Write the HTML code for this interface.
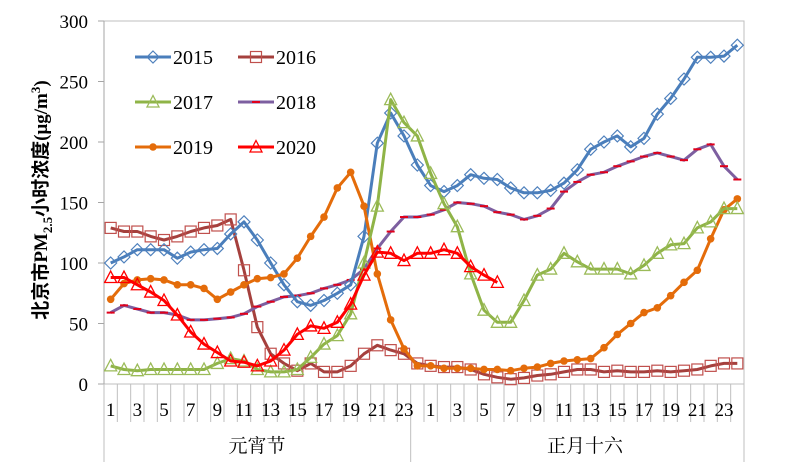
<!DOCTYPE html>
<html><head><meta charset="utf-8"><style>
html,body{margin:0;padding:0;background:#fff}
svg{display:block}
text{font-family:"Liberation Serif","Noto Serif CJK SC",serif}
</style></head><body>
<svg id="c" width="800" height="471" viewBox="0 0 800 471" xmlns="http://www.w3.org/2000/svg"></svg>
<script>
const S=document.getElementById('c');
let h='';
const L=104,R=744,T=21,B=384,N=48,cw=(R-L)/N;
const X=i=>L+(i+0.5)*cw, Y=v=>B-v*(B-T)/300;
h+=`<rect x="${L}" y="${T}" width="${R-L}" height="${B-T}" fill="none" stroke="#bfbfbf" stroke-width="1"/>`;
h+=`<line x1="${L}" y1="${T}" x2="${L}" y2="${B}" stroke="#a6a6a6"/>`;
for(let v=0;v<=300;v+=50){h+=`<line x1="${L-6}" y1="${Y(v)}" x2="${L}" y2="${Y(v)}" stroke="#a6a6a6"/>`;
h+=`<text x="88" y="${Y(v)+7}" font-size="19" text-anchor="end" fill="#000">${v}</text>`;}
for(let i=0;i<=N;i++){const x=L+i*cw;const yb=(i==0||i==23||i==48)?462:422;h+=`<line x1="${x}" y1="${B}" x2="${x}" y2="${yb}" stroke="#bfbfbf"/>`;}
for(let i=0;i<N;i++){const hr=i%24+1;if(hr%2==1)h+=`<text x="${X(i)}" y="${416}" font-size="19" text-anchor="middle">${hr}</text>`;}
h+=`<text x="257" y="452" font-size="19" text-anchor="middle" font-family="Noto Sans CJK SC,sans-serif">元宵节</text>`;
h+=`<text x="585" y="452" font-size="19" text-anchor="middle" font-family="Noto Sans CJK SC,sans-serif">正月十六</text>`;
h+=`<text transform="translate(47,200) rotate(-90)" font-size="19" font-weight="bold" text-anchor="middle"><tspan font-family="Noto Sans CJK SC,sans-serif">北京市</tspan>PM<tspan font-size="13" dy="5">2.5</tspan><tspan dy="-5" font-family="Noto Sans CJK SC,sans-serif">小时浓度</tspan>(μg/m<tspan font-size="13" dy="-7">3</tspan><tspan dy="7">)</tspan></text>`;
const D={
s15:[100,105,111,111,111,104,109,111,112,124,134,119,100,82,68,65,69,75,82,122,199,224,205,181,164,159,164,173,170,169,162,158,158,160,166,177,194,200,205,196,203,223,236,252,270,270,271,280],
s16:[129,126,126,122,119,122,126,129,131,136,94,47,25,17,11,17,10,10,15,25,32,28,25,17,15,14,14,12,8,5.5,4,5,7,8,10,12,12,10,11,10,10,11,10,11,12,15,17,17],
s17:[15,12,11,12,12,12,12,12,17,21,19,12,10,10,12,22,33,40,58,100,147,235,216,205,174,149,130,91,61,51,51,69,90,95,108,101,95,95,95,91,98,108,115,116,129,134,145,145],
s18:[59,65,62,59,59,57,53,53,54,55,58,64,68,72,73,75,79,82,86,95,112,126,138,138,140,144,150,149,147,142,140,136,139,145,159,167,173,175,180,184,188,191,188,185,194,198,180,169],
s19:[70,83,86,87,86,82,82,79,70,76,82,87,88,91,104,122,138,162,175,147,91,53,29,15,15,13,13,13,12,12,11,13,14,17,19,20,21,30,41,50,59,63,73,84,94,120,144,153],
s20:[88,88,82,76,69,57,43,33,26,19,18,15,19,28,41,48,46,51,66,90,109,108,102,108,108,111,108,97,90,84]
};
const line=(a,c,w)=>`<polyline fill="none" stroke="${c}" stroke-width="${w}" stroke-linejoin="round" points="${a.map((v,i)=>X(i).toFixed(1)+','+Y(v).toFixed(1)).join(' ')}"/>`;
const dia=(x,y,c)=>`<path d="M${x} ${y-6}L${x+6} ${y}L${x} ${y+6}L${x-6} ${y}Z" fill="none" stroke="${c}" stroke-width="1.2"/>`;
const sq=(x,y,c)=>`<rect x="${x-5.5}" y="${y-5.5}" width="11" height="11" fill="none" stroke="${c}" stroke-width="1.2"/>`;
const tri=(x,y,c)=>`<path d="M${x} ${y-6.5}L${x+6} ${y+5}L${x-6} ${y+5}Z" fill="none" stroke="${c}" stroke-width="1.3"/>`;
const dot=(x,y,c)=>`<circle cx="${x}" cy="${y}" r="3.8" fill="${c}"/>`;
const dash=(x,y,c)=>`<line x1="${x-4}" y1="${y}" x2="${x+4}" y2="${y}" stroke="${c}" stroke-width="2"/>`;
const ser=[['s16','#a5403d',sq,'#c0504d'],['s18','#7d5fa0',dash,'#e0001b'],['s15','#4a7ebb',dia,'#4f81bd'],['s19','#e46c0a',dot,'#e46c0a'],['s17','#8fb447',tri,'#9bbb59'],['s20','#ff0000',tri,'#ff0000']];
for(const [k,c,m,mc] of ser){h+=line(D[k],c,3);D[k].forEach((v,i)=>{h+=m(X(i),Y(v),mc);});}
const leg=[['2015',135,57,'#4a7ebb',dia,'#4f81bd'],['2016',238,57,'#a5403d',sq,'#c0504d'],['2017',135,102,'#8fb447',tri,'#9bbb59'],['2018',238,102,'#7d5fa0',dash,'#e0001b'],['2019',135,147,'#e46c0a',dot,'#e46c0a'],['2020',238,147,'#ff0000',tri,'#ff0000']];
for(const [t,x,y,c,m,mc] of leg){h+=`<line x1="${x}" y1="${y}" x2="${x+36}" y2="${y}" stroke="${c}" stroke-width="3"/>`+m(x+18,y,mc)+`<text x="${x+38}" y="${y+7}" font-size="20">${t}</text>`;}
S.innerHTML=h;
</script>
</body></html>
